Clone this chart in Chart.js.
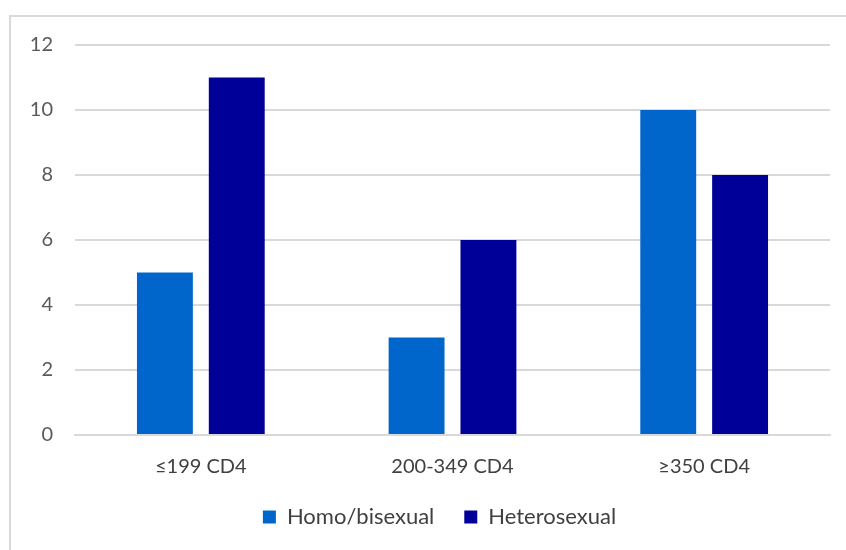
<!DOCTYPE html>
<html lang="en">
<head>
    <meta charset="UTF-8">
    <title>CD4 by transmission group</title>
    <style>
        body {
            margin: 0;
            background-color: #ffffff;
        }
        #chartBox {
            position: absolute;
            left: 9px;
            top: 15px;
            width: 835px;
            height: 533px;
            border-left: 2px solid #d9d9d9;
            border-top: 2px solid #d9d9d9;
        }
    </style>
</head>
<body>
    <div id="chartBox">
        <canvas id="cd4Chart"></canvas>
    </div>

    <script src="https://cdn.jsdelivr.net/npm/chart.js"></script>
    <script>
        // values
        const categories = ['≤199 CD4', '200-349 CD4', '≥350 CD4'];
        const homoBisexual = [5, 3, 10];
        const heterosexual = [11, 6, 8];
        const yTicks = [0, 2, 4, 6, 8, 10, 12];

        // pin the plot top and nudge the legend right, like the original
        const layoutFix = {
            id: 'layoutFix',
            afterLayout(c) {
                const top = 28;
                const y = c.scales.y;
                c.chartArea.top = top;
                c.chartArea.height = c.chartArea.bottom - top;
                y.top = top;
                y.height = y.bottom - top;
                y.configure();
                c.legend.left += 19;
                c.legend.right += 19;
            }
        };

        const ctx = document.getElementById('cd4Chart').getContext('2d');
        const chart = new Chart(ctx, {
            type: 'bar',
            data: {
                labels: categories,
                datasets: [
                    {
                        label: 'Homo/bisexual',
                        data: homoBisexual,
                        backgroundColor: '#0066cc'
                    },
                    {
                        label: 'Heterosexual',
                        data: heterosexual,
                        backgroundColor: '#000099'
                    }
                ]
            },
            plugins: [layoutFix],
            options: {
                responsive: true,
                maintainAspectRatio: false,
                animation: false,
                categoryPercentage: 0.571,
                barPercentage: 0.778,
                layout: {
                    autoPadding: false,
                    padding: { left: 0, right: 16, top: 28, bottom: 12 }
                },
                scales: {
                    x: {
                        grid: { display: false, drawTicks: false },
                        border: { color: '#d9d9d9', width: 2 },
                        afterFit: (scale) => {
                            scale.height = 41;
                        },
                        ticks: {
                            color: '#404040',
                            padding: 20,
                            font: { family: 'Lato', size: 20 }
                        }
                    },
                    y: {
                        min: 0,
                        max: 12,
                        afterBuildTicks: (scale) => {
                            scale.ticks = yTicks.map(v => ({ value: v }));
                        },
                        afterFit: (scale) => {
                            scale.width = 64;
                        },
                        grid: { color: '#d9d9d9', lineWidth: 2, drawTicks: false },
                        border: { display: false },
                        ticks: {
                            color: '#595959',
                            padding: 22,
                            font: { family: 'Lato', size: 20 }
                        }
                    }
                },
                plugins: {
                    legend: {
                        position: 'bottom',
                        labels: {
                            color: '#404040',
                            boxWidth: 13,
                            boxHeight: 13,
                            padding: 30,
                            font: { family: 'Lato', size: 22 }
                        }
                    },
                    tooltip: { enabled: false }
                }
            }
        });
    </script>
</body>
</html>
